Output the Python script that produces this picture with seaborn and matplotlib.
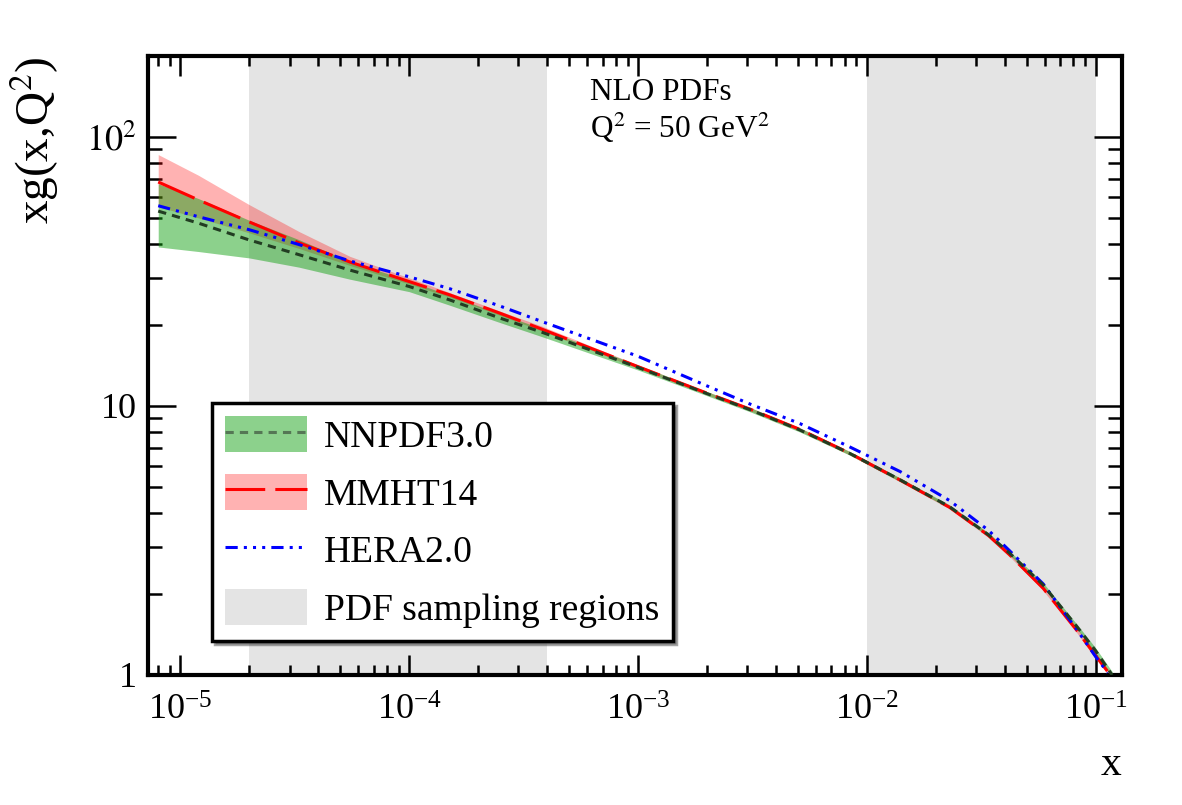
import numpy as np
import pandas as pd
import matplotlib
matplotlib.use("Agg")
import matplotlib.pyplot as plt
import seaborn as sns
from matplotlib.patches import Patch
from matplotlib.lines import Line2D
from matplotlib.ticker import NullFormatter, LogLocator

# x grid the curves are read at
x_vals = [8e-6, 1.2e-5, 2e-5, 3.3e-5, 5.5e-5, 1e-4, 1.5e-4, 2.5e-4, 3.8e-4, 1e-3,
          1.9e-3, 3.1e-3, 5.1e-3, 8.4e-3, 1.4e-2, 2.3e-2, 3.4e-2, 4.2e-2, 5.9e-2,
          8.3e-2, 0.1, 0.118]

# NNPDF3.0 central and band
nnpdf = [53, 47.8, 41.4, 36.5, 32.0, 27.8, 24.8, 21.2, 18.8, 13.9,
         11.3, 9.67, 8.14, 6.67, 5.31, 4.22, 3.32, 2.84, 2.16, 1.51, 1.23, 1.0]
nnpdf_lo = [39, 37.5, 35.5, 32.8, 29.6, 26.6, 23.7, 20.4, 18.1, 13.6,
            11.1, 9.5, 8.0, 6.57, 5.23, 4.16, 3.27, 2.8, 2.12, 1.48, 1.2, 0.98]
nnpdf_hi = [67, 59, 49, 41.5, 34.5, 29.2, 25.8, 22.0, 19.4, 14.2,
            11.5, 9.85, 8.28, 6.78, 5.4, 4.29, 3.38, 2.89, 2.2, 1.54, 1.26, 1.03]

# MMHT14 central and band
mmht = [68, 58.3, 48.3, 40.4, 34.3, 29.0, 25.9, 22.1, 19.3, 14.0,
        11.35, 9.72, 8.18, 6.68, 5.3, 4.2, 3.3, 2.8, 2.1, 1.46, 1.18, 0.98]
mmht_lo = [55, 50, 44, 38.5, 33.3, 28.4, 25.4, 21.7, 19.0, 13.8,
           11.2, 9.58, 8.06, 6.58, 5.22, 4.14, 3.25, 2.76, 2.06, 1.43, 1.15, 0.96]
mmht_hi = [86, 72, 56, 44.5, 36.0, 29.9, 26.4, 22.5, 19.8, 14.2,
           11.5, 9.86, 8.3, 6.78, 5.38, 4.26, 3.35, 2.84, 2.14, 1.49, 1.21, 1.0]

# HERAPDF2.0 central
hera_x = [8e-6, 1.2e-5, 2e-5, 3.3e-5, 5.5e-5, 1e-4, 1.5e-4, 2.5e-4, 3.8e-4, 1e-3,
          1.9e-3, 3.1e-3, 5.1e-3, 8.4e-3, 1.4e-2, 2.3e-2, 3.4e-2, 4.2e-2, 5.9e-2,
          8.3e-2, 0.1, 0.113]
hera = [55.5, 50.5, 45.2, 39.8, 34.6, 30.2, 27.3, 23.5, 20.6, 15.3,
        12.1, 10.15, 8.6, 7.05, 5.7, 4.45, 3.45, 2.9, 2.18, 1.47, 1.17, 1.02]

# PDF sampling regions
regions = [(2e-5, 4e-4), (1e-2, 1e-1)]

sns.set_theme(style="ticks")
plt.rcParams["font.family"] = ["Liberation Serif", "DejaVu Serif"]
plt.rcParams["mathtext.fontset"] = "stix"
plt.rcParams["text.color"] = "black"
plt.rcParams["axes.labelcolor"] = "black"

fig = plt.figure(figsize=(11.82, 8.05), dpi=100)
ax = fig.add_axes([0.125, 0.1615, 0.824, 0.769])
ax.set_xscale("log")
ax.set_yscale("log")

for lo, hi in regions:
    ax.axvspan(lo, hi, color="#e4e4e4", lw=0, zorder=0)

ax.fill_between(x_vals, mmht_lo, mmht_hi, color="#ff0000", alpha=0.3, lw=0, zorder=1)
ax.fill_between(x_vals, nnpdf_lo, nnpdf_hi, color="#10a010", alpha=0.48, lw=0, zorder=2)

nn_ls = (0, (2.7, 2.0))
mm_ls = (0, (13, 3.3))
he_ls = (0, (4, 2, 1, 2, 1, 2, 1, 2))

df_nn = pd.DataFrame(dict(x=x_vals, y=nnpdf))
df_mm = pd.DataFrame(dict(x=x_vals, y=mmht))
df_he = pd.DataFrame(dict(x=hera_x, y=hera))

sns.lineplot(data=df_mm, x="x", y="y", ax=ax, color="#ff0000", lw=2.2,
             linestyle=mm_ls, errorbar=None, zorder=3)
sns.lineplot(data=df_he, x="x", y="y", ax=ax, color="#0000ff", lw=2.2,
             linestyle=he_ls, errorbar=None, zorder=4)
sns.lineplot(data=df_nn, x="x", y="y", ax=ax, color="#223d22", lw=2.2,
             linestyle=nn_ls, errorbar=None, zorder=5)

ax.set_xlim(7.2e-6, 0.13)
ax.set_ylim(1, 200)

# axes cosmetics
for sp in ax.spines.values():
    sp.set_linewidth(3)
    sp.set_color("black")
ax.tick_params(which="both", direction="in", top=True, right=True, colors="black",
               labelsize=26)
ax.tick_params(axis="x", which="major", length=14.4, width=1.8, pad=14)
ax.tick_params(axis="x", which="minor", length=7.2, width=1.8)
ax.tick_params(axis="y", which="major", length=20, width=1.8, pad=8)
ax.tick_params(axis="y", which="minor", length=10, width=1.8)
ax.xaxis.set_minor_locator(LogLocator(base=10, subs=np.arange(2, 10), numticks=20))
ax.xaxis.set_minor_formatter(NullFormatter())
ax.yaxis.set_minor_locator(LogLocator(base=10, subs=np.arange(2, 10), numticks=20))
ax.yaxis.set_minor_formatter(NullFormatter())
ax.set_yticks([1, 10, 100], labels=["1", "10", r"$10^{2}$"])

ax.set_xlabel("x", fontsize=30, loc="right", labelpad=13)
ax.set_ylabel(r"xg(x,Q$^{2}$)", fontsize=34, loc="top", labelpad=18)

ax.text(0.454, 0.965, "NLO PDFs\nQ$^{2}$ = 50 GeV$^{2}$", transform=ax.transAxes,
        fontsize=22.5, va="top", ha="left", linespacing=1.15)

handles = [
    (Patch(facecolor="#10a010", alpha=0.48, lw=0),
     Line2D([], [], color="#557755", lw=2.2, linestyle=nn_ls)),
    (Patch(facecolor="#ff0000", alpha=0.3, lw=0),
     Line2D([], [], color="#ff0000", lw=2.2, linestyle=mm_ls)),
    Line2D([], [], color="#0000ff", lw=2.2, linestyle=he_ls),
    Patch(facecolor="#e4e4e4", lw=0),
]
labels = ["NNPDF3.0", "MMHT14", "HERA2.0", "PDF sampling regions"]
leg = ax.legend(handles, labels, loc="upper left", bbox_to_anchor=(0.0657, 0.439),
                borderaxespad=0, fontsize=27, handlelength=2.2, handleheight=1.1,
                handletextpad=0.45, labelspacing=0.5, borderpad=0.35,
                fancybox=False, shadow=True, framealpha=1, edgecolor="black")
leg.get_frame().set_linewidth(2.5)
leg.set_zorder(10)

fig.savefig("out.png", dpi=100)
